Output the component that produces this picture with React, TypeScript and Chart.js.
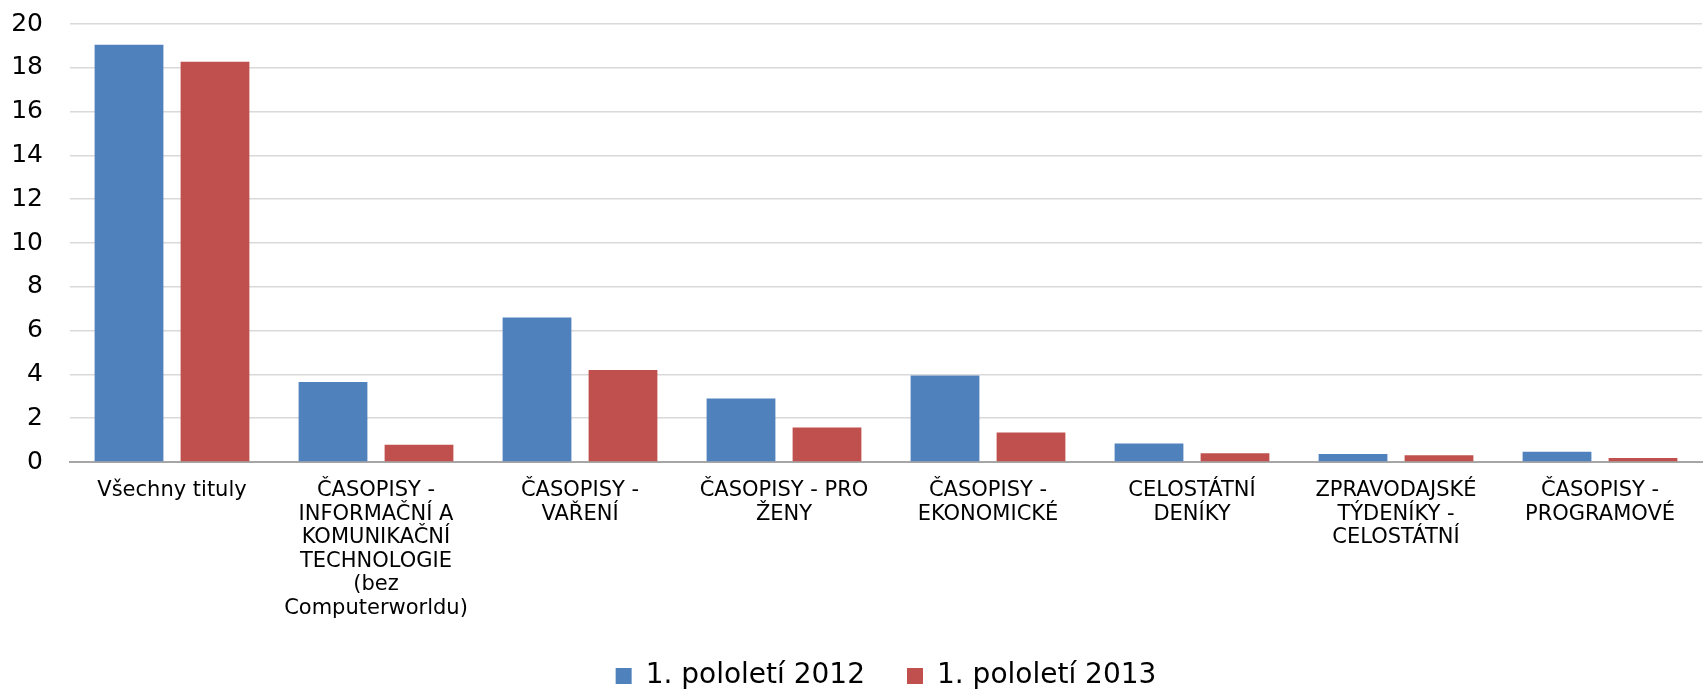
import React, { useEffect, useRef } from "react";
import { Chart, registerables } from "chart.js";

Chart.register(...registerables);

const categories: (string | string[])[] = [
  "Všechny tituly",
  ["ČASOPISY -", "INFORMAČNÍ A", "KOMUNIKAČNÍ", "TECHNOLOGIE", "(bez", "Computerworldu)"],
  ["ČASOPISY -", "VAŘENÍ"],
  ["ČASOPISY - PRO", "ŽENY"],
  ["ČASOPISY -", "EKONOMICKÉ"],
  ["CELOSTÁTNÍ", "DENÍKY"],
  ["ZPRAVODAJSKÉ", "TÝDENÍKY -", "CELOSTÁTNÍ"],
  ["ČASOPISY -", "PROGRAMOVÉ"],
];

const seriesNames = ["1. pololetí 2012", "1. pololetí 2013"];
const values2012 = [19.05, 3.65, 6.6, 2.9, 3.95, 0.85, 0.36, 0.47];
const values2013 = [18.28, 0.79, 4.2, 1.57, 1.35, 0.4, 0.31, 0.18];

const yMin = 0;
const yMax = 20;
const yStep = 2;

const FONT = "'DejaVu Sans', Verdana, sans-serif";

export default function App() {
  const ref = useRef<HTMLCanvasElement>(null);

  useEffect(() => {
    document.body.style.margin = "0";
    const canvas = ref.current;
    if (!canvas) return;
    const chart = new Chart(canvas, {
      type: "bar",
      data: {
        labels: categories,
        datasets: [
          {
            label: seriesNames[0],
            data: values2012,
            backgroundColor: "#4F81BD",
            borderWidth: 0,
          },
          {
            label: seriesNames[1],
            data: values2013,
            backgroundColor: "#C0504D",
            borderWidth: 0,
          },
        ],
      },
      options: {
        animation: false,
        responsive: true,
        maintainAspectRatio: false,
        layout: { padding: { top: 24, left: 12, right: 1, bottom: 0 } },
        datasets: {
          bar: { categoryPercentage: 0.843, barPercentage: 0.8 },
        },
        plugins: {
          tooltip: { enabled: false },
          legend: {
            position: "bottom",
            fullSize: false,
            maxHeight: 70,
            labels: {
              boxWidth: 16,
              boxHeight: 16,
              padding: 42,
              color: "#000",
              font: { family: FONT, size: 28 },
            },
          },
        },
        scales: {
          x: {
            grid: { display: true, drawOnChartArea: false, drawTicks: false },
            border: { display: true, color: "#a6a6a6", width: 2 },
            ticks: {
              color: "#000",
              autoSkip: false,
              maxRotation: 0,
              minRotation: 0,
              padding: 17,
              font: { family: FONT, size: 21, lineHeight: 1.12 },
            },
            afterFit: (scale: any) => {
              scale.height = 158;
            },
          },
          y: {
            min: yMin,
            max: yMax,
            grid: { color: "#d9d9d9", lineWidth: 1.5, drawTicks: false },
            border: { display: false },
            ticks: {
              stepSize: yStep,
              color: "#000",
              padding: 27,
              font: { family: FONT, size: 25 },
            },
            afterFit: (scale: any) => {
              scale.width = 58;
              scale.paddingTop = 0;
              scale.paddingBottom = 0;
            },
          },
        },
      },
    });
    return () => chart.destroy();
  }, []);

  return (
    <div style={{ width: 1703, height: 690, position: "relative" }}>
      <canvas ref={ref} />
    </div>
  );
}
